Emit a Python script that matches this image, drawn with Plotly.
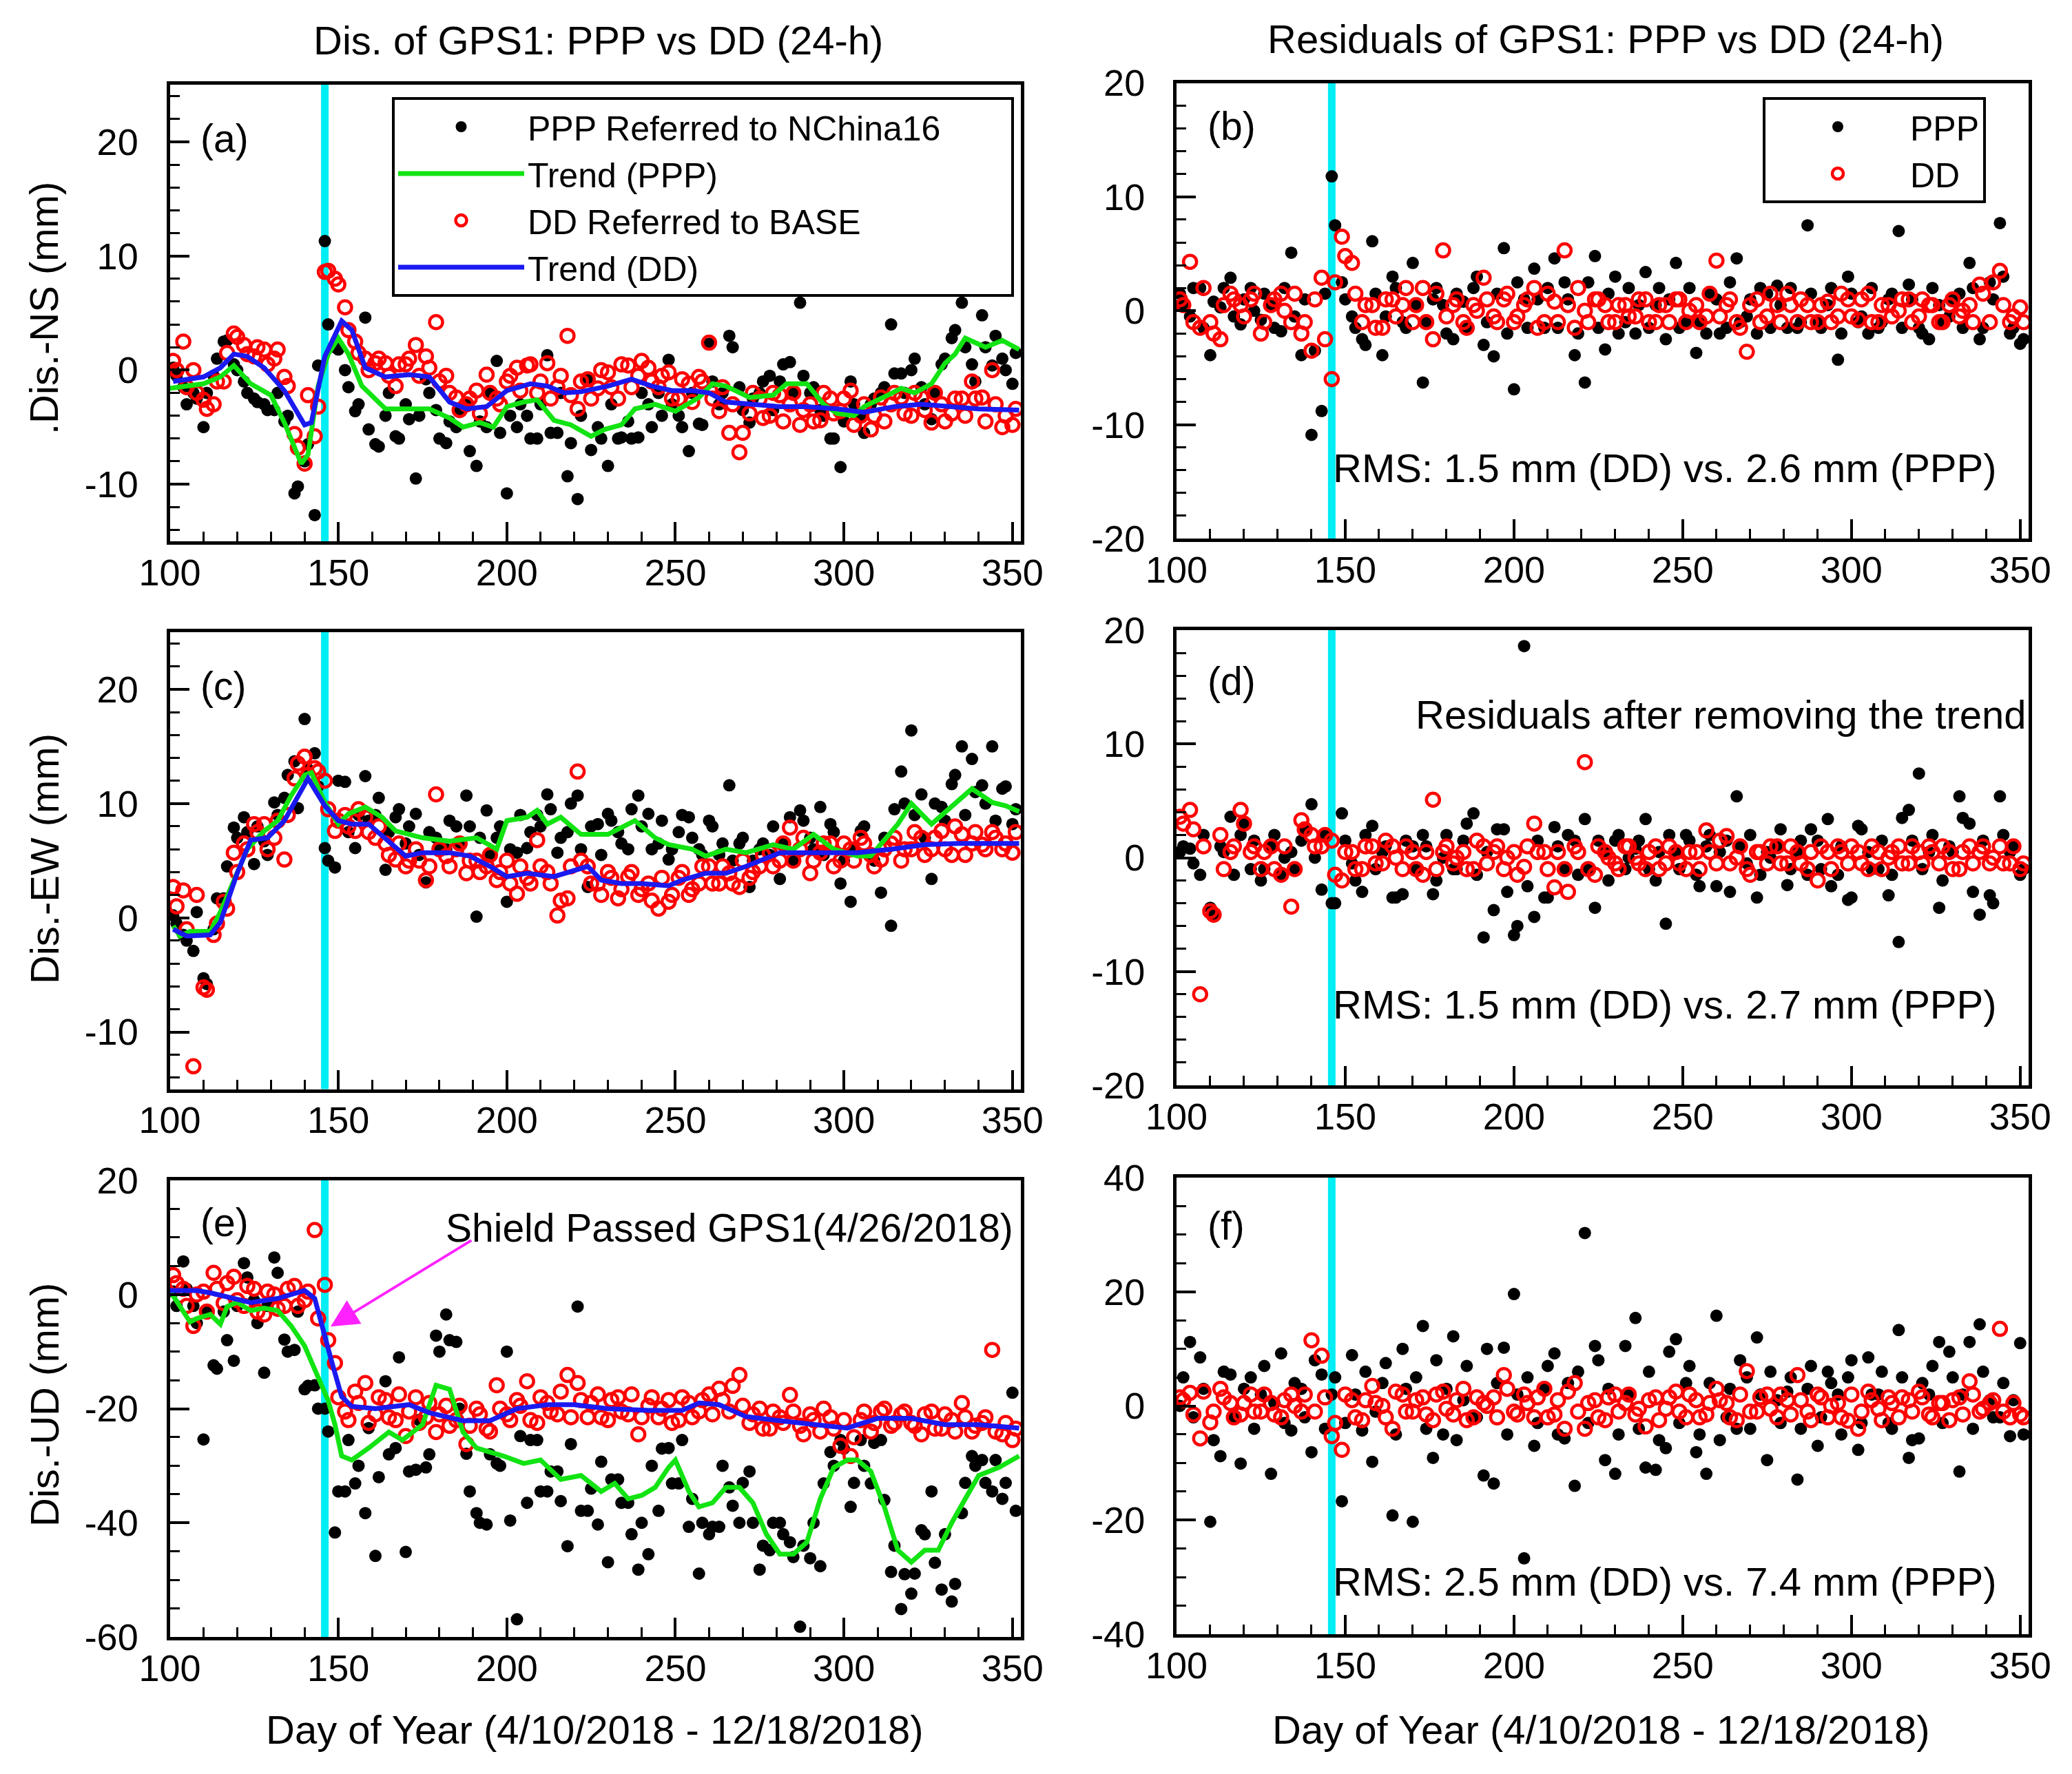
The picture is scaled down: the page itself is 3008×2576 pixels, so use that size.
import plotly.graph_objects as go

# Day of year of the daily solutions, read as two interleaved sets
DAYS_A = [101, 104, 107, 110, 113, 116, 119, 122, 125, 128, 131, 134,
          137, 140, 143, 146, 149, 152, 155, 158, 161, 164, 167, 170,
          173, 176, 179, 182, 185, 188, 191, 194, 197, 200, 203, 206,
          209, 212, 215, 218, 221, 224, 227, 230, 233, 236, 239, 242,
          245, 248, 251, 254, 257, 260, 263, 266, 269, 272, 275, 278,
          281, 284, 287, 290, 293, 296, 299, 302, 305, 308, 311, 314,
          317, 320, 323, 326, 329, 332, 335, 338, 341, 344, 347, 350]
DAYS_B = [102, 105, 108, 111, 114, 117, 120, 123, 126, 129, 132, 135,
          138, 141, 144, 147, 150, 153, 156, 159, 162, 165, 168, 171,
          174, 177, 180, 183, 186, 189, 192, 195, 198, 201, 204, 207,
          210, 213, 216, 219, 222, 225, 228, 231, 234, 237, 240, 243,
          246, 249, 252, 255, 258, 261, 264, 267, 270, 273, 276, 279,
          282, 285, 288, 291, 294, 297, 300, 303, 306, 309, 312, 315,
          318, 321, 324, 327, 330, 333, 336, 339, 342, 345, 348, 351]

SHIELD_DAY = 146

# (a) NS displacement (mm)
NS_PPP_A = [0.2, -1.5, -2.0, -5.0, -0.5, 2.5, 0.5, -1.0, -2.5, -3.0, -3.5, -4.5,
            -10.8, -8.0, -12.7, 11.3, 2.0, 0.0, -3.6, 4.6, -6.5, -4.0, -5.8, -3.0,
            -9.5, -0.8, -3.5, -6.4, -5.0, -3.0, -8.4, -5.0, 0.8, -10.8, -5.0, -4.0,
            -6.0, 1.3, -5.5, -9.3, -11.3, -0.7, -5.0, -8.4, -6.0, -4.5, -5.9, -3.0,
            -2.0, 0.9, -4.0, -7.1, -4.7, 2.3, -3.0, 3.0, -1.5, -4.6, -2.0, -0.5,
            -1.0, 0.7, 5.9, -2.0, -3.5, -6.0, -8.5, -1.0, -4.0, -3.0, -2.0, 4.0,
            -0.3, 0.0, -1.5, -4.3, 0.5, 2.8, 5.9, 0.5, 4.8, 0.4, 1.0, -1.2]
NS_PPP_B = [-0.5, -3.0, -2.5, -2.0, 1.0, 2.6, 0.0, -2.0, -2.8, -3.5, -2.0, -4.0,
            -10.2, -6.5, 0.4, 4.0, 1.8, -1.5, -3.0, -5.2, -6.7, -2.0, -6.0, -4.3,
            -4.0, -2.0, -6.0, -4.5, -3.5, -7.1, -4.5, -2.0, -5.5, -4.0, -3.0, -6.0,
            -3.0, -5.5, -2.0, -6.4, -4.0, -7.0, -6.0, -3.0, -5.9, -6.0, -2.0, -5.0,
            -4.0, -3.0, -5.0, -2.0, -4.8, -1.0, -2.0, 2.0, -3.5, -2.5, -1.0, -3.5,
            0.5, -2.0, -0.5, -1.5, -4.0, -6.0, -4.5, -3.0, -5.5, -2.5, -1.5, -0.3,
            -2.0, 1.0, -3.0, -2.0, 1.0, 3.5, 2.0, -1.0, 2.0, 3.0, 0.0, 1.5]
NS_DD_A = [0.8, 2.5, 0.0, -2.6, -3.0, -1.0, 3.2, 2.2, 1.2, 1.8, 1.0, -0.6,
           -5.6, -8.2, -5.8, 8.6, 8.0, 5.5, 2.5, 1.0, 0.6, 0.6, -1.4, 0.5,
           2.2, 1.2, 4.2, -0.5, -2.4, -3.0, -1.8, -0.4, -2.5, -1.0, 0.2, 0.4,
           -2.0, 0.6, -1.5, 3.0, -3.4, -0.8, -1.6, -0.2, -2.5, 0.4, -0.5, 0.2,
           -1.5, -0.2, -2.5, -1.2, -0.6, 2.4, -3.6, -5.5, -7.2, -3.8, -2.5, -4.0,
           -2.2, -3.0, -4.8, -3.0, -4.4, -2.5, -3.6, -1.8, -4.0, -5.2, -2.4, -3.0,
           -2.4, -4.0, -2.4, -4.6, -3.0, -3.8, -2.5, -1.0, -2.4, 0.0, -5.0, -4.8]
NS_DD_B = [0.0, -1.5, -2.0, -3.4, -1.0, 1.5, 2.9, 1.4, 2.0, 0.5, 1.8, -1.4,
           -6.8, -2.2, -3.2, 8.7, 7.5, 3.5, 1.5, 0.0, 1.0, -0.5, 0.5, 1.0,
           -0.5, 0.2, -1.0, -2.0, -3.5, -2.5, -3.8, -2.0, -3.0, -0.5, -1.8, 0.5,
           -1.0, -2.5, -0.5, -2.2, -1.0, -2.5, 0.0, -1.5, 0.5, -1.5, 0.8, -1.0,
           -0.5, -2.5, -0.8, -2.8, -1.0, -2.5, -1.5, -3.0, -5.5, -2.0, -4.2, -2.0,
           -4.5, -2.0, -3.5, -4.5, -2.0, -3.8, -2.5, -4.8, -3.0, -4.0, -4.5, -2.0,
           -3.8, -2.0, -3.5, -2.0, -4.5, -2.5, -4.0, -2.5, -4.5, -3.0, -4.0, -3.4]
NS_PPP_TREND_DAYS = [100, 104, 110, 115, 119, 124, 130, 134, 139, 141, 144, 147, 150, 153,
                     157, 164, 171, 177, 183, 187, 192, 196, 200, 205, 209, 214, 219, 225,
                     229, 234, 238, 244, 250, 257, 261, 265, 272, 279, 283, 289, 294, 298,
                     303, 306, 313, 317, 321, 326, 330, 333, 336, 342, 347, 352]
NS_PPP_TREND = [-1.6, -1.4, -1.2, -0.6, 0.4, -1.2, -2.2, -4.6, -8.2, -7.4, -1.4, 1.4, 2.8, 1.4,
                -1.4, -3.4, -3.4, -3.4, -4.2, -5.0, -4.6, -5.0, -3.2, -2.8, -2.6, -4.4, -4.8, -5.8,
                -5.2, -4.8, -3.4, -3.0, -3.6, -2.4, -1.2, -1.4, -2.4, -2.2, -1.2, -1.2, -3.0, -3.8,
                -4.0, -3.2, -2.2, -1.6, -2.0, -1.2, 0.6, 1.4, 2.8, 2.0, 2.6, 1.8]
NS_DD_TREND_DAYS = [101, 105, 110, 115, 119, 123, 128, 134, 140, 142, 146, 151, 154, 158,
                    164, 171, 177, 183, 188, 194, 200, 207, 212, 217, 222, 230, 237, 243,
                    249, 255, 260, 265, 272, 281, 289, 298, 306, 315, 323, 332, 340, 352]
NS_DD_TREND = [-1.0, -0.8, -0.6, 0.2, 1.4, 1.2, 0.2, -1.8, -4.8, -4.6, 1.2, 4.3, 3.5, 0.2,
               -0.6, -0.4, -0.6, -2.8, -3.4, -3.2, -1.8, -1.2, -1.4, -2.0, -1.9, -1.4, -0.8, -1.4,
               -1.8, -1.8, -2.0, -2.8, -3.0, -3.2, -3.2, -3.4, -3.7, -3.2, -3.0, -3.2, -3.4, -3.5]

# (b) NS residuals (mm)
NS_RES_PPP_A = [1.5, -0.5, 2.0, -3.9, 0.3, 2.9, -1.2, 2.0, -0.8, 0.5, -1.8, 5.1,
                -3.9, -10.9, -8.8, 11.8, 2.5, -0.5, -2.5, 6.1, -3.9, 3.0, -1.0, 4.2,
                -6.3, 1.0, 0.5, -2.5, 0.8, 2.0, -3.0, -4.0, 5.5, -6.9, 1.0, 3.7,
                -1.5, 4.6, 2.5, -3.9, -6.3, 4.8, -3.4, 3.0, -1.0, -2.0, 3.4, 0.5,
                -2.5, 4.2, -1.0, -3.7, -2.0, 1.0, -1.5, 4.6, -0.5, -2.0, 1.5, 2.2,
                -1.5, -1.5, 7.5, -1.0, 0.5, -4.3, 3.0, -1.0, -2.0, -1.5, 1.0, 7.0,
                2.3, -1.5, -2.5, 0.5, -0.5, 1.5, 4.2, -2.5, 2.5, 7.7, -2.0, -2.9]
NS_RES_PPP_B = [0.5, 2.0, -1.5, 0.8, 2.0, -0.5, 1.0, 0.0, 1.5, -1.5, 2.0, -0.5,
                1.0, -3.5, 1.5, 7.5, 1.0, -1.5, -3.0, 1.5, -0.5, 2.0, -1.5, 0.5,
                -1.0, 2.0, -2.0, 1.5, -1.5, 3.0, -1.0, 1.5, -2.0, 2.5, -1.5, 1.0,
                2.0, -1.5, 1.0, -2.0, 2.5, -1.5, 1.5, -2.0, 2.0, 0.5, -1.5, 2.0,
                1.0, -1.5, 2.0, -1.0, 1.5, -2.0, 2.5, -1.0, 1.0, 2.0, -1.5, 0.5,
                2.0, -1.0, 1.5, -1.5, 2.0, -2.0, 1.5, -0.5, 2.0, -1.0, 1.5, -1.5,
                1.0, -2.0, 2.0, -1.0, 1.0, -1.5, 2.0, -1.5, 1.0, 3.0, -1.5, -2.5]
NS_RES_DD_A = [1.0, 4.3, -1.5, -1.0, -2.5, 1.5, 0.5, 1.0, -2.0, 0.5, 1.5, -1.0,
               -2.0, -3.5, 2.9, -6.0, 6.5, 4.2, -1.0, 0.5, -1.5, 1.0, 0.5, -1.0,
               2.0, -2.5, 5.3, 0.5, -1.0, 0.5, 2.9, -0.5, 1.0, -1.0, 0.5, 2.0,
               -1.0, 0.8, 5.3, -1.5, 0.0, 1.0, 0.5, -1.0, 0.5, -0.5, 1.0, -1.0,
               0.5, 1.0, -1.0, 0.5, -0.5, 4.4, 0.5, -1.0, -3.6, 1.0, -0.5, 0.5,
               1.5, -1.0, 0.5, -1.0, 0.8, -0.5, 1.0, -0.8, 1.5, -1.0, 0.5, 0.0,
               1.0, -0.5, 0.5, -1.0, 0.5, -0.5, 0.5, 2.3, -1.0, 3.5, -1.0, 0.3]
NS_RES_DD_B = [0.5, -1.0, 2.0, -2.0, 0.5, 1.0, -0.5, 1.5, -1.0, 1.0, 0.0, 1.5,
               -1.0, 1.0, -2.5, 2.5, 4.8, 1.5, 0.5, -1.5, 1.0, -0.5, 2.0, 0.5,
               -1.0, 1.5, -0.5, 1.0, -1.5, 0.0, 1.0, -1.0, 1.5, -0.5, 1.0, -1.5,
               1.5, -1.0, 0.5, 2.0, -1.0, 1.0, -1.0, 0.5, -0.5, 1.0, -1.0, 0.5,
               -1.0, 1.0, 0.0, -1.0, 1.5, -0.5, 1.0, -1.5, 0.5, -1.0, 1.5, -1.0,
               0.5, 1.0, -1.0, 0.5, -1.0, 1.5, -0.5, 1.0, -1.0, 0.5, -0.5, 1.0,
               -1.0, 1.0, 0.5, -1.0, 1.0, 0.0, -1.0, 1.5, 2.5, 0.5, -0.5, -1.0]

# (c) EW displacement (mm)
EW_PPP_A = [0.2, -1.5, -2.9, -5.3, -1.0, 1.7, 7.9, 8.8, 4.7, 6.7, 10.1, 10.5,
            13.7, 17.4, 14.4, 6.1, 4.4, 11.9, 6.1, 12.4, 9.0, 4.2, 8.8, 6.5,
            9.1, 3.1, 7.0, 6.0, 8.0, 10.7, 0.1, 9.4, 7.0, 1.4, 5.7, 6.1,
            9.0, 10.8, 5.7, 7.5, 10.7, 2.7, 8.2, 9.1, 7.5, 6.0, 10.7, 9.1,
            6.5, 5.1, 7.5, 8.8, 6.0, 8.5, 5.5, 11.6, 6.5, 2.7, 6.0, 5.5,
            3.4, 8.8, 9.4, 7.0, 9.7, 8.2, 3.0, 1.4, 7.6, 5.5, 2.2, -0.7,
            12.8, 16.4, 10.8, 3.4, 9.7, 11.7, 15.0, 13.9, 11.6, 15.0, 11.3, 8.2]
EW_PPP_B = [-0.5, -2.0, 0.5, -5.8, 1.7, 4.5, 7.0, 7.5, 8.0, 5.5, 9.0, 12.5,
            9.6, 13.0, 11.5, 5.0, 12.0, 7.5, 9.0, 8.5, 10.5, 7.5, 9.5, 8.0,
            5.5, 7.5, 6.0, 8.5, 6.5, 8.0, 7.0, 5.5, 8.0, 6.0, 9.0, 7.5,
            8.0, 9.5, 7.0, 10.0, 6.0, 8.0, 5.5, 8.5, 6.5, 9.5, 8.0, 6.0,
            8.5, 6.0, 9.0, 7.0, 5.5, 8.0, 6.5, 5.0, 7.0, 5.0, 6.5, 8.0,
            6.5, 5.0, 8.5, 6.0, 5.5, 7.5, 5.0, 6.0, 8.0, 5.0, 7.0, 9.5,
            10.0, 9.0, 7.0, 10.0, 8.5, 12.5, 9.0, 11.0, 10.0, 8.5, 11.5, 9.5]
EW_DD_A = [2.7, 2.4, -13.0, -6.1, -1.5, 1.4, 5.7, 6.5, 8.2, 8.2, 7.0, 5.1,
           12.2, 14.1, 13.1, 12.0, 7.6, 9.0, 7.6, 8.8, 7.0, 6.5, 5.1, 4.5,
           6.0, 3.3, 10.8, 5.4, 6.0, 3.9, 5.0, 4.5, 3.3, 5.0, 2.1, 3.5,
           6.8, 4.0, 0.2, 1.7, 12.8, 4.5, 3.0, 4.0, 1.7, 3.6, 2.0, 3.0,
           0.8, 1.4, 3.5, 2.0, 3.0, 4.5, 3.0, 3.9, 2.7, 3.5, 4.5, 5.7,
           5.0, 7.9, 6.0, 3.9, 5.7, 6.5, 5.0, 6.0, 7.0, 5.5, 5.1, 6.5,
           5.0, 6.0, 7.0, 6.0, 7.6, 5.5, 7.3, 6.5, 6.4, 7.5, 6.0, 5.7]
EW_DD_B = [1.0, -1.0, 2.0, -6.3, -0.5, 0.8, 4.0, 6.0, 7.5, 6.0, 8.5, 9.0,
           13.5, 12.5, 12.8, 9.5, 8.5, 8.0, 9.5, 7.5, 8.0, 5.5, 6.5, 5.0,
           5.0, 4.5, 6.0, 4.5, 6.5, 5.0, 4.0, 5.5, 4.0, 3.0, 4.5, 3.0,
           4.5, 3.0, 1.5, 4.5, 5.0, 3.0, 2.0, 3.5, 2.5, 4.0, 2.5, 1.5,
           3.5, 2.0, 4.0, 2.5, 4.5, 3.0, 4.5, 3.0, 5.0, 4.0, 5.5, 4.5,
           6.5, 5.0, 7.0, 5.0, 6.5, 4.5, 6.5, 5.0, 6.5, 4.5, 6.0, 7.0,
           6.0, 7.5, 5.5, 7.0, 6.0, 8.0, 5.5, 7.5, 6.0, 7.0, 6.5, 7.5]
EW_PPP_TREND_DAYS = [101, 103, 106, 112, 115, 119, 123, 128, 132, 136, 140, 142, 146, 150,
                     153, 158, 163, 167, 175, 183, 191, 197, 200, 206, 209, 212, 216, 222,
                     230, 236, 238, 244, 248, 255, 259, 265, 271, 279, 285, 291, 297, 304,
                     308, 316, 320, 326, 332, 338, 344, 348, 352]
EW_PPP_TREND = [-0.7, -1.6, -1.2, -1.2, 0.5, 3.3, 6.0, 7.6, 8.5, 10.7, 12.5, 12.7, 10.1, 8.2,
                9.1, 9.7, 8.8, 7.6, 7.0, 6.7, 7.0, 6.0, 8.5, 8.8, 9.4, 8.2, 8.8, 7.3,
                7.3, 8.2, 8.5, 7.0, 6.4, 6.0, 5.4, 6.0, 5.7, 6.4, 6.0, 7.3, 6.0, 5.4,
                5.4, 8.2, 10.0, 8.2, 9.8, 11.3, 10.1, 9.8, 9.3]
EW_DD_TREND_DAYS = [101, 105, 112, 115, 120, 124, 129, 134, 141, 146, 150, 154, 159,
                    165, 170, 175, 183, 189, 195, 200, 206, 214, 220, 224, 228, 234,
                    240, 248, 252, 259, 265, 271, 281, 291, 304, 314, 324, 334, 352]
EW_DD_TREND = [-1.0, -1.6, -1.5, -0.4, 3.9, 6.8, 7.0, 8.5, 12.2, 9.8, 8.5, 8.2, 8.2,
               6.7, 5.4, 5.7, 5.7, 5.4, 4.5, 3.6, 3.9, 3.6, 4.2, 4.5, 3.3, 3.0,
               3.0, 2.8, 3.3, 3.9, 3.9, 4.5, 5.7, 5.7, 5.7, 6.0, 6.4, 6.5, 6.5]

# (d) EW residuals (mm)
EW_RES_PPP_A = [0.5, 0.8, -1.5, -4.4, 1.0, 3.6, 2.0, -1.0, -2.0, 1.0, -1.5, 0.5,
                1.5, 4.7, -2.8, -4.0, 3.9, -0.5, -3.0, 2.8, 0.5, -3.5, -3.2, 1.0,
                2.0, -3.2, 0.0, -1.0, 1.5, 3.9, -7.0, -4.6, 2.5, -6.8, 18.6, -5.2,
                -3.5, 2.7, -1.0, 1.5, 3.4, -4.4, 0.5, 1.5, -1.0, 0.8, 3.4, -2.0,
                -5.8, 0.5, 2.0, -1.5, 1.0, -2.5, 1.5, 5.4, -0.5, -3.5, 0.5, 1.0,
                -2.4, 0.5, -1.5, 1.5, 3.4, -1.5, -3.7, 2.8, 0.5, -1.0, -3.3, -7.4,
                4.2, 7.4, 0.5, -4.4, 1.0, 5.4, 3.0, -5.0, -3.3, 5.4, 0.5, -1.5]
EW_RES_PPP_B = [1.0, -0.5, 2.0, -5.0, 0.5, -1.5, 3.0, 1.5, -1.0, 2.0, 0.0, -1.0,
                2.5, 0.0, 2.0, -4.0, 1.5, -2.0, 2.0, -1.0, 1.0, -3.5, 1.5, -1.0,
                1.0, -2.0, 2.0, -1.0, 3.0, -1.5, 0.5, 2.5, -3.0, -6.0, -2.5, 1.5,
                -3.5, 1.0, 2.0, -1.5, -1.0, 1.5, -2.0, 2.0, 0.0, 1.5, -1.0, 0.5,
                2.0, -1.0, 1.5, -2.5, 2.0, 0.5, -3.0, 1.0, 2.0, -1.5, 0.0, 2.5,
                -1.0, 1.5, 2.5, -1.0, -2.5, 1.0, -3.5, 2.5, -1.0, 1.5, -1.5, 3.5,
                1.5, -1.0, 2.0, -2.0, 0.5, 3.5, -3.0, 1.5, -4.0, 2.0, 1.0, -1.0]
EW_RES_DD_A = [3.6, 4.2, -12.0, -4.7, 2.0, 0.5, 4.2, 0.5, -1.0, 1.0, -1.5, -4.3,
               3.3, 2.0, 1.0, 1.5, -2.0, 0.5, -1.0, 1.0, -0.5, 1.0, -1.0, 0.5,
               -1.5, 5.1, 0.5, -0.5, 0.5, -1.0, 1.0, 0.5, -1.0, 0.5, -0.8, 3.0,
               0.5, -2.6, -1.0, 1.0, 8.4, -1.5, 0.5, -0.5, 1.0, 0.0, -1.0, 1.0,
               -0.5, 0.5, -1.0, 0.5, 2.4, -0.5, 1.9, 0.0, -1.0, 0.5, -0.5, 1.0,
               -0.5, 0.5, -1.0, -2.0, 0.5, 1.0, -0.5, 0.5, -1.0, 0.5, 0.0, 1.0,
               -0.5, 0.5, 1.0, -0.5, 0.5, -1.0, 1.0, 0.5, -0.5, 1.0, -0.5, -1.0]
EW_RES_DD_B = [3.0, 2.5, 1.0, -5.0, -1.0, 1.0, 3.0, 1.0, 0.5, -1.0, 1.0, -1.0,
               2.5, 1.0, 2.0, -1.5, 0.5, -1.0, 1.0, -0.5, 1.5, 0.0, 1.0, -1.0,
               0.5, -1.0, 1.0, 0.0, -1.0, 1.5, -0.5, 1.0, 0.0, -1.5, 1.0, 0.5,
               -1.0, 0.5, -3.0, 0.5, -1.0, 1.0, 0.0, -1.0, 1.0, -0.5, 0.5, -1.0,
               1.0, -0.5, 0.5, -1.0, 0.5, 1.5, -0.5, 1.0, -1.5, 0.5, 1.0, -0.5,
               1.0, -0.5, 0.5, 1.0, -1.0, 0.5, 1.0, -0.5, 1.0, -1.0, 0.5, -0.5,
               1.0, -0.5, 0.5, 1.0, -1.0, 0.5, -0.5, 1.0, 0.0, -0.5, 1.0, -0.5]

# (e) UD displacement (mm)
UD_PPP_A = [0.5, 5.8, -2.0, -25.4, -12.4, -3.0, -11.6, 5.5, -1.0, -13.7, 6.5, -7.9,
            -9.7, -16.6, -15.9, -20.0, -41.7, -34.5, -33.1, -38.3, -45.8, -15.2, -26.9, -45.1,
            -30.7, -30.3, -7.2, -3.5, -8.3, -27.9, -38.3, -40.3, -29.6, -10.0, -56.9, -36.5,
            -25.5, -34.5, -31.0, -44.1, -2.1, -37.9, -40.3, -46.9, -32.4, -36.5, -48.2, -45.5,
            -37.9, -26.9, -33.1, -40.7, -48.9, -42.0, -40.7, -33.8, -40.0, -31.0, -48.2, -44.8,
            -40.0, -43.4, -58.2, -46.2, -47.6, -27.6, -25.5, -37.2, -25.5, -33.1, -25.5, -48.6,
            -55.1, -52.4, -41.3, -34.5, -51.7, -53.8, -38.3, -28.3, -29.0, -34.5, -35.8, -17.2]
UD_PPP_B = [-2.0, 1.0, -5.0, -3.0, -13.0, -8.0, -2.0, 3.0, -5.0, -2.0, 3.8, -10.0,
            -3.0, -16.0, -20.0, -24.0, -34.5, -25.5, -30.0, -23.4, -32.0, -28.0, -11.0, -31.0,
            -22.0, -28.0, -10.0, -8.0, -20.0, -34.5, -40.0, -28.0, -30.0, -39.6, -24.8, -25.5,
            -34.5, -31.0, -36.2, -26.2, -37.9, -34.0, -29.3, -32.4, -36.5, -42.0, -40.0, -30.0,
            -27.0, -33.1, -25.5, -35.8, -40.0, -40.7, -30.0, -37.0, -33.0, -40.0, -44.0, -40.0,
            -42.0, -46.0, -44.0, -40.0, -33.1, -30.0, -27.0, -33.0, -30.0, -26.0, -36.0, -44.0,
            -49.0, -48.9, -42.0, -47.0, -42.0, -50.7, -33.0, -30.0, -33.0, -29.0, -33.0, -37.9]
UD_DD_A = [3.4, 1.0, -5.5, 0.5, 3.8, -1.5, 3.1, -2.0, 1.0, -3.5, 0.0, -2.0,
           1.5, -1.0, 11.3, 1.7, -12.0, -20.5, -17.0, -15.5, -21.0, -18.5, -22.0, -24.8,
           -18.0, -21.5, -24.1, -19.5, -22.0, -26.2, -20.0, -23.5, -15.9, -21.0, -18.5, -15.2,
           -22.5, -19.0, -21.0, -14.1, -15.5, -21.5, -17.5, -22.0, -18.0, -21.0, -24.5, -19.5,
           -21.5, -18.5, -22.0, -19.0, -20.5, -17.5, -16.5, -20.5, -14.1, -22.5, -20.0, -23.5,
           -21.5, -17.6, -23.0, -21.0, -24.0, -21.5, -26.5, -28.3, -22.0, -24.0, -20.5, -23.0,
           -21.0, -22.5, -24.5, -20.5, -23.5, -22.0, -19.0, -24.0, -22.5, -9.7, -24.5, -25.5]
UD_DD_B = [2.0, -2.0, 0.0, -3.0, 1.0, 2.0, -1.0, 1.5, -3.0, 0.5, -2.5, 1.0,
           -2.0, 0.5, -4.2, -8.0, -18.0, -22.0, -19.0, -22.5, -18.0, -21.5, -17.5, -20.5,
           -22.5, -19.0, -21.0, -23.0, -19.5, -23.0, -21.0, -24.0, -20.0, -22.0, -19.5, -22.0,
           -18.0, -20.5, -17.0, -21.5, -18.5, -19.0, -21.5, -18.5, -20.5, -17.5, -21.5, -18.0,
           -20.0, -22.5, -18.0, -21.5, -18.5, -21.0, -18.5, -16.0, -19.5, -21.0, -23.5, -20.5,
           -22.5, -20.5, -24.5, -22.0, -20.0, -23.5, -22.0, -25.0, -20.5, -22.5, -20.0, -22.5,
           -20.5, -23.0, -21.0, -23.5, -21.0, -24.0, -21.5, -23.0, -21.5, -24.0, -22.5, -23.5]
UD_PPP_TREND_DAYS = [100, 103, 106, 108, 112, 115, 117, 120, 124, 128, 132, 136, 140, 144,
                     147, 149, 151, 154, 159, 165, 169, 175, 179, 183, 187, 191, 199, 205,
                     210, 216, 222, 228, 232, 236, 240, 244, 248, 250, 254, 257, 261, 265,
                     269, 273, 277, 281, 285, 289, 293, 297, 301, 304, 308, 312, 316, 320,
                     324, 328, 332, 336, 340, 346, 352]
UD_PPP_TREND = [0.7, -2.1, -4.8, -4.2, -3.5, -5.2, -2.1, -1.4, -2.8, -2.4, -2.8, -5.5, -9.0, -14.5,
                -18.6, -22.8, -28.3, -29.0, -26.9, -24.1, -25.5, -22.8, -15.9, -16.6, -24.1, -26.9, -28.3, -29.6,
                -29.0, -32.4, -31.7, -34.5, -33.1, -35.8, -35.2, -33.8, -30.3, -29.0, -34.5, -37.2, -36.5, -33.8,
                -33.8, -36.5, -42.0, -45.5, -45.5, -43.4, -35.8, -30.3, -29.0, -29.0, -31.0, -37.2, -44.8, -46.9,
                -44.8, -44.8, -40.0, -35.8, -31.7, -30.3, -28.3]
UD_DD_TREND_DAYS = [100, 108, 112, 117, 124, 132, 140, 143, 145, 148, 151, 154, 161, 171,
                    177, 187, 195, 203, 212, 220, 230, 242, 252, 257, 263, 271, 281, 291,
                    301, 310, 320, 330, 340, 352]
UD_DD_TREND = [0.7, 0.7, 0.3, -0.4, -1.4, -0.7, 0.7, -0.7, -4.8, -11.7, -17.9, -19.6, -20.0, -19.3,
               -20.7, -22.1, -22.1, -20.0, -19.3, -19.3, -20.0, -20.3, -20.3, -19.0, -19.3, -21.4, -22.1, -22.8,
               -23.4, -21.7, -21.7, -22.8, -22.8, -23.4]

# (f) UD residuals (mm)
UD_RES_PPP_A = [0.0, 11.2, 8.5, -20.3, -8.8, 5.5, -10.1, 5.0, 2.0, -11.9, 9.2, -4.3,
                3.0, -8.1, 5.5, 2.0, -16.7, 8.9, -4.3, -9.8, 4.0, -19.2, 10.0, -20.3,
                14.0, -9.1, -5.0, 12.2, 1.0, -2.0, -12.2, -13.6, 10.2, 19.6, -26.7, -7.0,
                3.0, 9.2, -5.7, -14.0, 30.3, 10.5, -9.5, -11.9, 10.5, 15.4, -10.8, -11.2,
                -7.4, 11.7, 4.0, -8.1, -11.9, 15.8, -2.0, -4.0, 5.0, 12.0, -9.5, 1.0,
                2.5, -12.9, 3.0, -7.0, 6.0, 2.0, 5.0, -7.7, 8.5, 2.0, -3.0, 13.3,
                -9.1, -5.7, 2.0, 11.2, 9.5, -11.5, 11.2, 14.3, 1.0, -2.0, -5.3, 11.0]
UD_RES_PPP_B = [5.0, -2.0, 3.0, -6.0, 6.0, -2.0, 3.0, -4.0, 7.0, 0.5, -3.0, 4.0,
                -2.0, 8.0, -4.0, 5.0, -3.0, 2.0, 6.0, -1.0, 7.5, -5.0, 3.0, 5.0,
                -4.0, 8.0, 3.0, -6.0, 7.0, -2.0, 10.0, 4.0, -5.0, 2.0, 5.0, -3.0,
                7.0, -5.0, 4.0, 6.0, -3.0, 8.0, 3.0, -5.0, 2.0, -4.0, 6.0, -6.0,
                9.5, -3.0, 7.0, -5.0, 4.0, -6.0, 3.0, 8.0, -4.0, 2.0, 6.0, -3.0,
                5.0, -4.0, 7.0, -2.0, 4.0, -5.0, 8.0, -3.0, 2.0, 6.0, -4.0, 5.0,
                -6.0, 4.0, 7.0, -3.0, 5.0, 2.0, -4.0, 6.0, -2.0, 4.0, 1.0, -5.0]
UD_RES_DD_A = [1.5, 2.3, -5.7, -2.9, 3.0, 0.5, -1.5, 2.0, -1.0, 0.5, -2.0, 2.0,
               -1.0, 11.5, 8.8, -5.3, -7.7, 1.0, -2.5, 3.5, 0.0, -4.0, 2.0, -1.0,
               1.5, -2.5, 2.5, -1.5, 3.0, -2.0, 0.5, 1.5, 5.4, -1.0, 2.0, -2.0,
               3.0, -1.5, -4.0, 4.0, -4.0, 1.0, -2.5, 2.0, 0.5, -1.5, -3.6, 1.5,
               -0.5, 2.5, -2.0, 1.0, -1.5, 3.0, 0.5, -2.5, 6.1, -1.0, 2.0, -2.0,
               1.0, 5.4, -1.0, 2.0, -2.0, 0.5, -2.6, -4.0, 2.5, -0.5, 1.5, -2.0,
               1.0, 2.5, -1.5, 0.5, -2.5, 1.5, 4.3, -1.0, 0.5, 13.5, -2.0, -1.5]
UD_RES_DD_B = [1.0, -1.5, 2.5, -1.0, 1.5, -2.0, 0.5, -1.0, 2.0, -1.5, 1.0, 0.0,
               2.0, -1.0, 1.5, -3.0, 2.0, -2.0, 1.0, 0.5, -2.0, 2.5, -1.0, 1.0,
               -1.5, 2.0, -0.5, 1.0, -2.5, 1.5, 0.0, -2.0, 3.0, -1.5, 0.5, 1.5,
               -2.0, 1.0, 2.5, -1.0, 0.5, -2.0, 1.5, -1.0, 2.0, -0.5, 1.0, -2.5,
               1.5, -1.0, 2.0, -2.0, 0.5, 1.0, -2.0, 2.0, -1.0, 1.5, -0.5, 2.0,
               -1.5, 1.0, -2.5, 1.5, 0.0, -2.0, 2.0, -1.0, 1.0, -2.5, 0.5, 1.5,
               -1.0, 1.5, -2.0, 0.5, 1.0, -1.5, 2.0, -0.5, 1.0, -1.0, 0.5, -2.0]

FONT = 'Liberation Sans, Arial, sans-serif'
BLACK = '#000000'
RED = '#FF0000'
GREEN = '#12E312'
BLUE = '#1A1AF0'
CYAN = '#00EEF4'
MAGENTA = '#FF22FF'

W, H = 3008, 2576
PAGE_OFFSET = 8  # the page body margin shifts everything by a few pixels
NBSP = '\u00a0'  # pads the first legend entry so the box reaches the axis edge


def px(x):
    return (x - PAGE_OFFSET) / W


def py(y):
    return 1 - (y - PAGE_OFFSET) / H


DAYS = DAYS_A + DAYS_B

fig = go.Figure()


def add_scatter(xa, ya, ppp, dd, ppp_name, dd_name, legend, show):
    fig.add_trace(go.Scatter(x=DAYS, y=ppp, mode='markers', name=ppp_name,
                             xaxis=xa, yaxis=ya, legend=legend, showlegend=show, legendrank=1,
                             marker=dict(color=BLACK, size=18)))
    fig.add_trace(go.Scatter(x=DAYS, y=dd, mode='markers', name=dd_name,
                             xaxis=xa, yaxis=ya, legend=legend, showlegend=show, legendrank=3,
                             marker=dict(color=RED, size=19, symbol='circle-open',
                                         line=dict(color=RED, width=4.5))))


def add_trends(xa, ya, pdays, ptrend, ddays, dtrend, show):
    fig.add_trace(go.Scatter(x=pdays, y=ptrend, mode='lines', name='Trend (PPP)',
                             xaxis=xa, yaxis=ya, showlegend=show, legendrank=2,
                             line=dict(color=GREEN, width=7)))
    fig.add_trace(go.Scatter(x=ddays, y=dtrend, mode='lines', name='Trend (DD)',
                             xaxis=xa, yaxis=ya, showlegend=show, legendrank=4,
                             line=dict(color=BLUE, width=7)))


# left column: displacements with their trends
add_scatter('x', 'y', NS_PPP_A + NS_PPP_B, NS_DD_A + NS_DD_B,
            'PPP Referred to NChina16' + NBSP * 7, 'DD Referred to BASE', 'legend', True)
add_trends('x', 'y', NS_PPP_TREND_DAYS, NS_PPP_TREND, NS_DD_TREND_DAYS, NS_DD_TREND, True)
add_scatter('x3', 'y3', EW_PPP_A + EW_PPP_B, EW_DD_A + EW_DD_B, 'PPP', 'DD', 'legend', False)
add_trends('x3', 'y3', EW_PPP_TREND_DAYS, EW_PPP_TREND, EW_DD_TREND_DAYS, EW_DD_TREND, False)
add_scatter('x5', 'y5', UD_PPP_A + UD_PPP_B, UD_DD_A + UD_DD_B, 'PPP', 'DD', 'legend', False)
add_trends('x5', 'y5', UD_PPP_TREND_DAYS, UD_PPP_TREND, UD_DD_TREND_DAYS, UD_DD_TREND, False)

# right column: residuals
add_scatter('x2', 'y2', NS_RES_PPP_A + NS_RES_PPP_B, NS_RES_DD_A + NS_RES_DD_B,
            'PPP', 'DD', 'legend2', True)
add_scatter('x4', 'y4', EW_RES_PPP_A + EW_RES_PPP_B, EW_RES_DD_A + EW_RES_DD_B,
            'PPP', 'DD', 'legend2', False)
add_scatter('x6', 'y6', UD_RES_PPP_A + UD_RES_PPP_B, UD_RES_DD_A + UD_RES_DD_B,
            'PPP', 'DD', 'legend2', False)


def xaxis_style(domain, anchor):
    return dict(domain=domain, anchor=anchor, range=[100, 352.5], tick0=100, dtick=50,
                showline=True, linecolor=BLACK, linewidth=5, mirror=True,
                ticks='inside', ticklen=28, tickwidth=4, tickcolor=BLACK,
                minor=dict(dtick=10, tick0=100, ticks='inside', ticklen=14, tickwidth=3,
                           tickcolor=BLACK),
                showgrid=False, zeroline=False, ticklabelstandoff=-6, automargin=False,
                tickfont=dict(family=FONT, size=54, color=BLACK))


def yaxis_style(domain, anchor, rng, ticks, minor):
    # hyphen-minus labels as in the original figure
    return dict(domain=domain, anchor=anchor, range=rng,
                tickmode='array', tickvals=ticks, ticktext=[str(t) for t in ticks],
                showline=True, linecolor=BLACK, linewidth=5, mirror=True,
                ticks='inside', ticklen=28, tickwidth=4, tickcolor=BLACK,
                minor=dict(tickmode='linear', tick0=0, dtick=minor, ticks='inside',
                           ticklen=14, tickwidth=3, tickcolor=BLACK),
                showgrid=False, zeroline=False, ticklabelstandoff=30, automargin=False,
                tickfont=dict(family=FONT, size=54, color=BLACK))


LEFT = [px(246.5), px(1482)]
RIGHT = [px(1708), px(2945)]

fig.update_layout(
    width=W, height=H,
    margin=dict(l=0, r=0, t=0, b=0, autoexpand=False),
    paper_bgcolor='white', plot_bgcolor='white',
    font=dict(family=FONT, size=57, color=BLACK),
    xaxis=xaxis_style(LEFT, 'y'),
    yaxis=yaxis_style([py(786), py(123)], 'x', [-15, 25], [-10, 0, 10, 20], 2),
    xaxis2=xaxis_style(RIGHT, 'y2'),
    yaxis2=yaxis_style([py(782), py(120.5)], 'x2', [-20, 20], [-20, -10, 0, 10, 20], 2),
    xaxis3=xaxis_style(LEFT, 'y3'),
    yaxis3=yaxis_style([py(1581.5), py(918)], 'x3', [-15, 25], [-10, 0, 10, 20], 2),
    xaxis4=xaxis_style(RIGHT, 'y4'),
    yaxis4=yaxis_style([py(1576), py(915)], 'x4', [-20, 20], [-20, -10, 0, 10, 20], 2),
    xaxis5=xaxis_style(LEFT, 'y5'),
    yaxis5=yaxis_style([py(2377), py(1714)], 'x5', [-60, 20], [-60, -40, -20, 0, 20], 5),
    xaxis6=xaxis_style(RIGHT, 'y6'),
    yaxis6=yaxis_style([py(2373), py(1710)], 'x6', [-40, 40], [-40, -20, 0, 20, 40], 5),
    legend=dict(x=px(569), y=py(141), xanchor='left', yanchor='top',
                bgcolor='white', bordercolor=BLACK, borderwidth=4,
                itemwidth=183, font=dict(family=FONT, size=50, color=BLACK),
                traceorder='normal'),
    legend2=dict(x=px(2559), y=py(141), xanchor='left', yanchor='top',
                 bgcolor='white', bordercolor=BLACK, borderwidth=4,
                 itemwidth=200, font=dict(family=FONT, size=50, color=BLACK)),
)

# cyan line marking the shield passage
for xr, yr in [('x', 'y'), ('x2', 'y2'), ('x3', 'y3'), ('x4', 'y4'), ('x5', 'y5'), ('x6', 'y6')]:
    fig.add_shape(type='line', xref=xr, yref=yr + ' domain', x0=SHIELD_DAY, x1=SHIELD_DAY,
                  y0=0, y1=1, line=dict(color=CYAN, width=11), layer='below')

# panel labels
for txt, xr, yr, yv in [('(a)', 'x', 'y', 20.3), ('(b)', 'x2', 'y2', 16.2),
                        ('(c)', 'x3', 'y3', 20.3), ('(d)', 'x4', 'y4', 15.5),
                        ('(e)', 'x5', 'y5', 12.6), ('(f)', 'x6', 'y6', 31.6)]:
    fig.add_annotation(text=txt, xref=xr, yref=yr, x=108.7, y=yv, xanchor='left',
                       yanchor='middle', showarrow=False, font=dict(size=57))

# RMS notes
for txt, xr, yr, yv in [('RMS: 1.5 mm (DD) vs. 2.6 mm (PPP)', 'x2', 'y2', -13.8),
                        ('RMS: 1.5 mm (DD) vs. 2.7 mm (PPP)', 'x4', 'y4', -12.9),
                        ('RMS: 2.5 mm (DD) vs. 7.4 mm (PPP)', 'x6', 'y6', -30.8)]:
    fig.add_annotation(text=txt, xref=xr, yref=yr, x=343.5, y=yv, xanchor='right',
                       yanchor='middle', showarrow=False, font=dict(size=58))

fig.add_annotation(text='Residuals after removing the trend', xref='x4', yref='y4',
                   x=352.3, y=12.6, xanchor='right', yanchor='middle', showarrow=False,
                   font=dict(size=58))

fig.add_annotation(text='Shield Passed GPS1(4/26/2018)', xref='x5', yref='y5',
                   x=181.4, y=11.7, xanchor='left', yanchor='middle', showarrow=False,
                   font=dict(size=57))
fig.add_annotation(text='', xref='x5', yref='y5', x=147.7, y=-5.6,
                   axref='x5', ayref='y5', ax=189.8, ay=9.6, showarrow=True,
                   arrowhead=2, arrowsize=2, arrowwidth=4, arrowcolor=MAGENTA, standoff=0)

# column titles
fig.add_annotation(text='Dis. of GPS1: PPP vs DD (24-h)', xref='paper', yref='paper',
                   x=px(868), y=py(58), xanchor='center', yanchor='middle',
                   showarrow=False, font=dict(size=58))
fig.add_annotation(text='Residuals of GPS1: PPP vs DD (24-h)', xref='paper', yref='paper',
                   x=px(2331), y=py(56), xanchor='center', yanchor='middle',
                   showarrow=False, font=dict(size=58))

# axis titles
for txt, yc in [('.Dis.-NS (mm)', 448), ('Dis.-EW (mm)', 1247), ('Dis.-UD (mm)', 2040)]:
    fig.add_annotation(text=txt, xref='paper', yref='paper', x=px(64), y=py(yc),
                       xanchor='center', yanchor='middle', textangle=-90,
                       showarrow=False, font=dict(size=58))
for xc in [863, 2324]:
    fig.add_annotation(text='Day of Year (4/10/2018 - 12/18/2018)', xref='paper', yref='paper',
                       x=px(xc), y=py(2511), xanchor='center', yanchor='middle',
                       showarrow=False, font=dict(size=58))

fig.write_html('out.html')
